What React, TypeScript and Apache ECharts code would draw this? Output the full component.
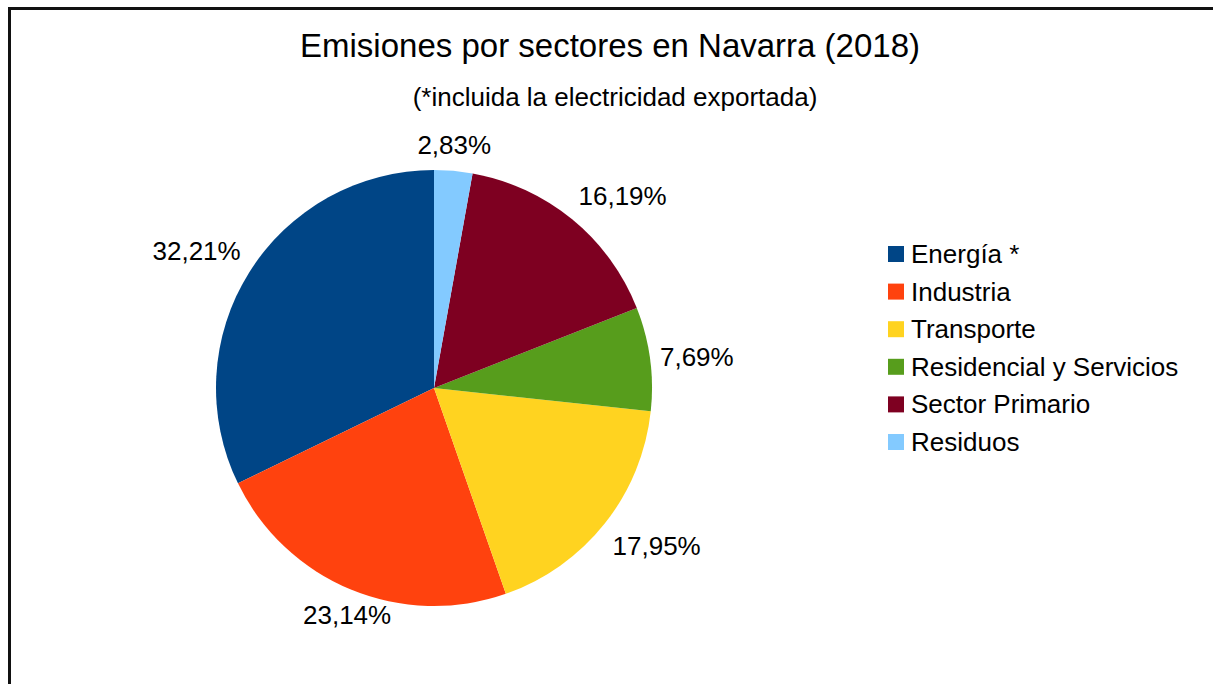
import React, { useEffect, useRef } from "react";
import * as echarts from "echarts";

const TITLE = "Emisiones por sectores en Navarra (2018)";
const SUBTITLE = "(*incluida la electricidad exportada)";
const categories = ["Energía *", "Industria", "Transporte", "Residencial y Servicios", "Sector Primario", "Residuos"];
const values = [32.21, 23.14, 17.95, 7.69, 16.19, 2.83];
const colors = ["#004586", "#ff420e", "#ffd320", "#579d1c", "#7e0021", "#83caff"];

const FONT = "'Liberation Sans', Arial, sans-serif";
const CX = 434;
const CY = 388;
const R = 218;
const GAP = 10;

function fmt(v: number) {
  return v.toFixed(2).replace(".", ",") + "%";
}

export default function App() {
  const ref = useRef<HTMLDivElement>(null);
  useEffect(() => {
    if (!ref.current) return;
    const chart = echarts.init(ref.current, null, { renderer: "svg" });
    const total = values.reduce((a, b) => a + b, 0);
    const mids: number[] = [];
    let acc = 0;
    values.forEach((v) => {
      const midCCW = ((acc + v / 2) / total) * 360;
      mids.push((360 - midCCW) % 360);
      acc += v;
    });
    const aligns = [
      ["center", "bottom"],
      ["left", "bottom"],
      ["left", "middle"],
      ["left", "top"],
      ["center", "top"],
      ["right", "top"],
      ["right", "middle"],
      ["right", "bottom"],
    ];
    chart.setOption({
      animation: false,
      backgroundColor: "#ffffff",
      color: colors,
      title: [
        {
          text: TITLE,
          left: 605,
          top: 24,
          textAlign: "center",
          textStyle: { fontFamily: FONT, fontSize: 33, fontWeight: "normal", color: "#000" },
        },
        {
          text: SUBTITLE,
          left: 610,
          top: 79,
          textAlign: "center",
          textStyle: { fontFamily: FONT, fontSize: 26, fontWeight: "normal", color: "#000" },
        },
      ],
      legend: {
        orient: "vertical",
        left: 883,
        top: 236,
        icon: "rect",
        itemWidth: 16,
        itemHeight: 16,
        itemGap: 11.6,
        textStyle: { fontFamily: FONT, fontSize: 26, color: "#000", padding: [0, 0, 0, 2] },
        data: categories,
      },
      graphic: [
        {
          type: "rect",
          shape: { x: 9.5, y: 8.5, width: 1400, height: 900 },
          style: { fill: "none", stroke: "#111", lineWidth: 3 },
          silent: true,
        },
      ],
      series: [
        {
          type: "pie",
          center: [CX, CY],
          radius: R,
          startAngle: 90,
          clockwise: false,
          avoidLabelOverlap: false,
          label: {
            show: true,
            position: "outside",
            fontFamily: FONT,
            fontSize: 26,
            lineHeight: 32,
            color: "#000",
            formatter: (p: any) => fmt(p.value),
          },
          labelLine: { show: false, length: GAP, length2: 0 },
          labelLayout: (p: any) => {
            const th = mids[p.dataIndex];
            const rad = (th * Math.PI) / 180;
            const x = CX + (R + GAP) * Math.sin(rad);
            const y = CY - (R + GAP) * Math.cos(rad);
            const k = Math.round(th / 45) % 8;
            return { x, y, align: aligns[k][0], verticalAlign: aligns[k][1] };
          },
          itemStyle: { borderWidth: 0 },
          emphasis: { disabled: true },
          data: categories.map((c, i) => ({ name: c, value: values[i] })),
        },
      ],
    });
    return () => chart.dispose();
  }, []);
  return (
    <div
      ref={ref}
      style={{ position: "fixed", left: 0, top: 0, width: 1213, height: 684, background: "#fff" }}
    />
  );
}
